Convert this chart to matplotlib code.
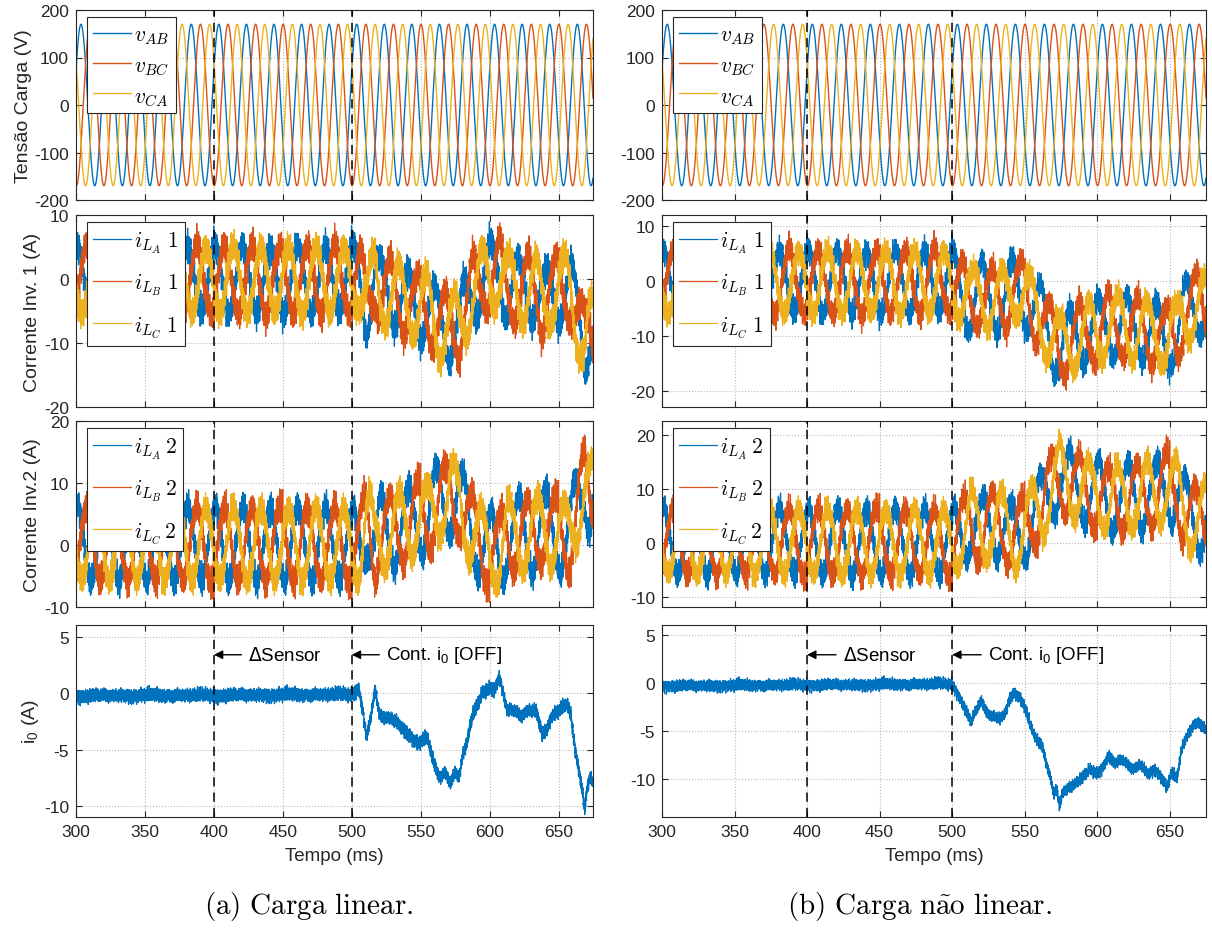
"""Load voltage, inverter currents and circulating current i0 for the
linear and non-linear load tests, stacked in two columns."""

import matplotlib

matplotlib.use("Agg")
import matplotlib.pyplot as plt
import numpy as np
from matplotlib.font_manager import FontProperties

plt.rcParams["font.family"] = ["Liberation Sans", "DejaVu Sans"]
plt.rcParams["axes.unicode_minus"] = False

# ---- measured quantities -------------------------------------------------
T_START, T_END = 300.0, 675.0          # ms
F_GRID = 50.0                          # Hz
V_PEAK = 170.0                         # V, line-to-line peak
V_AB_PEAK_MS = 503.6                   # instant of a v_AB crest
I_A_PEAK_MS = 501.0                    # instant of an i_LA crest
EVENT_SENSOR_MS = 400.0
EVENT_I0_OFF_MS = 500.0

# fundamental amplitude of the inverter phase currents (A)
I_AMP = {"a": (5.3, 6.0), "b": (5.8, 6.2)}

# i0 trend read along the record, (time ms, value A)
I0A_T = [300, 500, 503, 505, 508, 510.7, 514, 517, 520, 524,
         528, 532.6, 536, 541, 544, 548, 552, 555, 559, 563.6,
         567.8, 572, 575, 578, 580.5, 583.3, 587.5, 591.7, 594.5, 600,
         604, 607, 610, 612.5, 617, 622.7, 628, 633.8, 638, 642,
         645, 651, 656.5, 659, 662, 665, 667.7, 669, 670.5, 673, 675]
I0A_V = [-0.2, -0.1, 0.3, 0.5, -1.5, -3.9, -2, 0.5, -2, -2.1,
         -2.2, -2.5, -3.0, -3.5, -4, -4.5, -4.2, -4, -6, -7.5,
         -7, -8, -7, -7.5, -5.5, -4.5, -2, -1, 0, 0.5,
         0.5, 1.5, 0, -1.5, -1.5, -2, -1.5, -1.5, -3.5, -3,
         -2, -1.5, -1, -2, -5, -7, -9, -10.5, -8.5, -7.5, -8]

I0B_T = [300, 400, 500, 505, 510, 513, 516, 520, 522, 526,
         530, 533, 537, 540, 543, 546, 550, 554, 558, 562,
         565, 568, 570, 572, 574, 576, 580, 585, 590, 595,
         600, 605, 608, 612, 617, 620, 625, 630, 635, 640,
         645, 648, 651, 655, 658, 662, 666, 670, 672, 675]
I0B_V = [-0.35, -0.25, -0.15, -1.5, -3, -4.2, -3, -2, -2.5, -3.5,
         -3.5, -3.8, -3, -1.5, -1, -1.5, -2.5, -4.5, -6, -6.5,
         -8.5, -10, -11.5, -11, -13, -11.5, -11, -10.5, -10, -9,
         -9.5, -8.5, -7.5, -8.5, -8, -8.5, -9, -8.5, -9.5, -9,
         -10, -11, -9.5, -10, -7, -5.5, -4.5, -4, -4.5, -5]

# PWM switching ripple carried by the measured currents (kHz, A)
RIPPLE_KHZ = [0.83, 1.37, 2.23, 3.11, 4.67, 6.19, 8.41, 9.37]
RIPPLE_AMP = [0.7, 0.75, 0.65, 0.6, 0.5, 0.45, 0.4, 0.35]
I0_RIPPLE_SCALE = 0.25

V_LABELS = [r"$v_{AB}$", r"$v_{BC}$", r"$v_{CA}$"]
I1_LABELS = [r"$i_{L_A}\;\mathit{1}$", r"$i_{L_B}\;\mathit{1}$", r"$i_{L_C}\;\mathit{1}$"]
I2_LABELS = [r"$i_{L_A}\,2$", r"$i_{L_B}\,2$", r"$i_{L_C}\,2$"]
Y_LABELS = ["Tensão Carga (V)", "Corrente Inv. 1 (A)", "Corrente Inv.2 (A)",
            r"i$_{\mathregular{0}}$ (A)"]
CAPTIONS = [r"$\mathrm{(a)\ Carga\ linear.}$",
            r"$\mathrm{(b)\ Carga\ n\tilde{a}o\ linear.}$"]
CAPTION_X = [0.255, 0.759]

YLIMS = {
    "a": [(-200, 200), (-20, 10), (-10, 20), (-11, 6.1)],
    "b": [(-200, 200), (-23, 12), (-11.8, 22.6), (-14, 6)],
}
YTICKS = [[-200, -100, 0, 100, 200], [-20, -10, 0, 10],
          [-10, 0, 10, 20], [-10, -5, 0, 5]]
ARROW_Y = {"a": 3.45, "b": 2.9}

COLORS = ["#0072BD", "#D95319", "#EDB120"]

t = np.arange(T_START, T_END + 0.025, 0.05)


def ripple(phase_shift, scale=1.0):
    out = np.zeros_like(t)
    for k, (f, a) in enumerate(zip(RIPPLE_KHZ, RIPPLE_AMP)):
        out += scale * a * np.sin(2 * np.pi * f * t + phase_shift * (k * 2.3 + 1.7))
    return out


def three_phase(amp, crest_ms):
    w = 2 * np.pi * F_GRID / 1000.0
    return [amp * np.cos(w * (t - crest_ms) - 2 * np.pi * k / 3) for k in range(3)]


def legend(ax, handles, labels, spacing):
    prop = FontProperties(family="DejaVu Serif", size=15.5, math_fontfamily="cm")
    leg = ax.legend(handles, labels, loc="upper left", bbox_to_anchor=(0.012, 0.985),
                    prop=prop, fancybox=False, framealpha=1, edgecolor="0.15",
                    handlelength=1.75, handletextpad=0.15, labelspacing=spacing,
                    borderpad=0.3, borderaxespad=0.2)
    leg.get_frame().set_linewidth(0.8)


def style(ax, ylim, yticks):
    ax.set_xlim(T_START, T_END)
    ax.set_ylim(*ylim)
    ax.set_yticks(yticks)
    ax.set_xticks(np.arange(300, 676, 50))
    ax.grid(True, linestyle=":", color="0.72", linewidth=0.8)
    ax.set_axisbelow(True)
    ax.tick_params(direction="in", top=True, right=True, labelsize=12.5,
                   length=4, width=0.8, colors="0.15", labelcolor="0.15", pad=5)
    for s in ax.spines.values():
        s.set_color("0.15")
        s.set_linewidth(0.8)
    for x in (EVENT_SENSOR_MS, EVENT_I0_OFF_MS):
        ax.axvline(x, color="black", linestyle=(0, (6, 4)), linewidth=1.1, zorder=5)


fig = plt.figure(figsize=(12.12, 9.29), dpi=100)
W, H = 1212.0, 929.0
col_x = {"a": (76, 593), "b": (662, 1206)}
row_y = [(11, 201), (216, 408), (422, 608), (626, 818)]

for case, i0_t, i0_v in (("a", I0A_T, I0A_V), ("b", I0B_T, I0B_V)):
    trend = np.interp(t, i0_t, i0_v)
    i0 = trend + ripple(0.9, I0_RIPPLE_SCALE)
    amp1, amp2 = I_AMP[case]
    v = three_phase(V_PEAK, V_AB_PEAK_MS)
    i1 = [s + trend + ripple(0.6 + k * 1.3)
          for k, s in enumerate(three_phase(amp1, I_A_PEAK_MS))]
    i2 = [s - trend + ripple(2.1 + k * 0.8)
          for k, s in enumerate(three_phase(amp2, I_A_PEAK_MS))]

    x0, x1 = col_x[case]
    axes = []
    for r, (y0, y1) in enumerate(row_y):
        ax = fig.add_axes([x0 / W, 1 - y1 / H, (x1 - x0) / W, (y1 - y0) / H])
        style(ax, YLIMS[case][r], YTICKS[r])
        axes.append(ax)

    hv, h1, h2 = [], [], []
    for k in range(3):
        hv += axes[0].plot(t, v[k], color=COLORS[k], linewidth=1.0)
        h1 += axes[1].plot(t, i1[k], color=COLORS[k], linewidth=0.9)
        h2 += axes[2].plot(t, i2[k], color=COLORS[k], linewidth=0.9)
    axes[3].plot(t, i0, color=COLORS[0], linewidth=0.9)

    legend(axes[0], hv, V_LABELS, 0.35)
    legend(axes[1], h1, I1_LABELS, 0.75)
    legend(axes[2], h2, I2_LABELS, 0.75)

    for ax in axes[:3]:
        ax.tick_params(labelbottom=False)
    axes[3].set_xlabel("Tempo (ms)", fontsize=13.5, color="0.15", labelpad=6)

    if case == "a":
        for ax, lab in zip(axes, Y_LABELS):
            ax.set_ylabel(lab, fontsize=14, color="0.15", labelpad=2)

    ya = ARROW_Y[case]
    for x_ev, txt in ((EVENT_SENSOR_MS, r"$\Delta$Sensor"),
                      (EVENT_I0_OFF_MS, r"Cont. i$_{\mathregular{0}}$ [OFF]")):
        axes[3].annotate("", xy=(x_ev, ya), xytext=(x_ev + 20, ya),
                         arrowprops=dict(arrowstyle="-|>", color="black",
                                         lw=1.0, mutation_scale=13,
                                         shrinkA=0, shrinkB=0), zorder=6)
        axes[3].text(x_ev + 25, ya, txt, fontsize=13.5, va="center", ha="left",
                     color="black")

for cx, cap in zip(CAPTION_X, CAPTIONS):
    fig.text(cx, 0.024, cap, fontsize=21, ha="center", va="center",
             math_fontfamily="cm")

fig.savefig("out.png", dpi=100)
